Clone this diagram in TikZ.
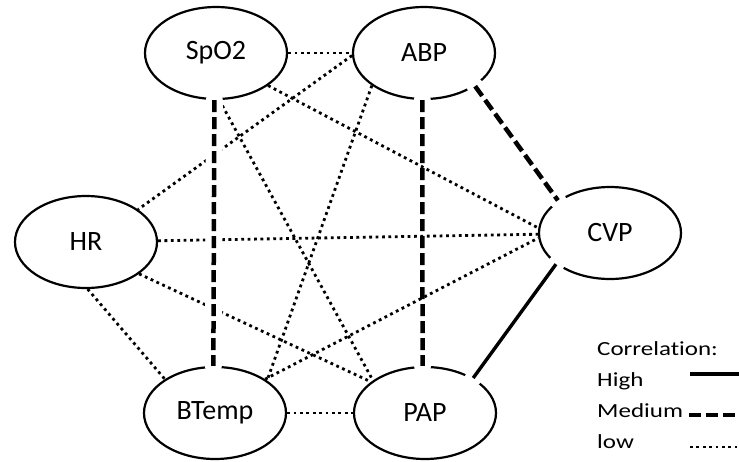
\documentclass[tikz,border=0pt]{standalone}
\usepackage{fontspec}
\setmainfont{Carlito}[Ligatures=NoCommon]
\newfontfamily\legendfont{Carlito}[FakeStretch=1.25,Ligatures=NoCommon]
\usetikzlibrary{shapes.geometric}

\tikzset{
    var/.style={ellipse,draw,line width=2.2pt,minimum width=142pt,
        minimum height=92pt,inner sep=0pt,font=\fontsize{28}{33}\selectfont},
    legendtext/.style={anchor=base west,inner sep=0pt,
        font=\legendfont\fontsize{20}{24}\selectfont},
    halo/.style={draw=white,line width=17pt,line cap=round},
    lowcor/.style={line width=2.8pt,dash pattern=on 2.8pt off 3.6pt},
    medcor/.style={line width=4.5pt,dash pattern=on 12pt off 5pt},
    highcor/.style={line width=3.4pt}
}

\begin{document}
\begin{tikzpicture}[x=1pt,y=-1pt]
    \useasboundingbox (0,0) rectangle (739,461);

    \node[var] (spo2) at (216,53) {SpO2};
    \node[var] (abp) at (424,53) {ABP};
    \node[var] (hr) at (86,242) {HR};
    \node[var] (cvp) at (610,233) {CVP};
    \node[var] (btemp) at (215,413) {BTemp};
    \node[var] (pap) at (425,413) {PAP};

    \draw[halo] (abp.-92) -- (pap.93);
    \draw[medcor] (abp.-92) -- (pap.93);

    % low correlation
    \draw[lowcor] (spo2) -- (abp);
    \draw[lowcor] (spo2.-32) -- (cvp.176);
    \draw[lowcor] (spo2.-86) -- (pap.148);
    \draw[lowcor] (abp.182) -- (hr.32);
    \draw[lowcor] (abp.-148) -- (btemp.32);
    \draw[lowcor] (hr) -- (cvp);
    \draw[lowcor] (hr.-31) -- (pap.150);
    \draw[lowcor] (hr.-88) -- (btemp.146);
    \draw[lowcor] (btemp) -- (pap);
    \draw[lowcor] (btemp.34) -- (cvp.184);

    % medium and high correlation
    \draw[halo] (spo2.-92) -- (btemp.92);
    \draw[medcor] (spo2.-92) -- (btemp.92);
    \draw[halo] (abp.-33) -- (cvp.148);
    \draw[medcor] (abp.-33) -- (cvp.148);
    \draw[halo] (pap.36) -- (cvp.210);
    \draw[highcor] (pap.36) -- (cvp.210);

    % legend
    \node[legendtext] (corr) at (597,355) {Correlation:};
    \node[legendtext] (high) at (597,386) {High};
    \node[legendtext] (medium) at (597,417) {Medium};
    \node[legendtext] (low) at (597,448) {low};
    \coordinate (high-s) at (690,374);
    \coordinate (high-e) at (739,374);
    \coordinate (medium-s) at (689,415);
    \coordinate (medium-e) at (737,415);
    \coordinate (low-s) at (690,447);
    \coordinate (low-e) at (737,447);
    \draw[highcor] (high-s) -- (high-e);
    \draw[medcor] (medium-s) -- (medium-e);
    \draw[lowcor] (low-s) -- (low-e);
\end{tikzpicture}
\end{document}
